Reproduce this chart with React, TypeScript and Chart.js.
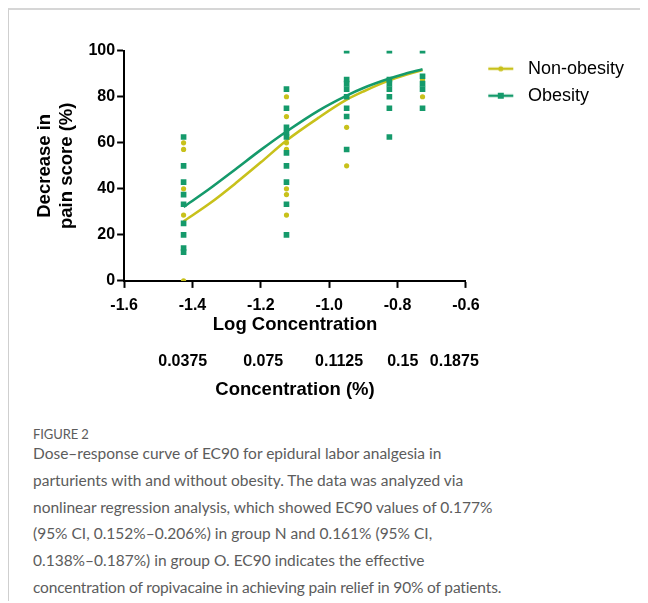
import React, { useEffect, useRef } from "react";
import { Chart, registerables } from "chart.js";

Chart.register(...registerables);

// ---- data ----
const doseLogs = [-1.426, -1.125, -0.949, -0.824, -0.727];
const nonObesityValues: number[][] = [
  [60, 57.1, 40, 28.6, 0],
  [80, 71.4, 60, 57.1, 40, 37.5, 28.6],
  [66.7, 50],
  [],
  [87.5, 80],
];
const obesityValues: number[][] = [
  [62.5, 50, 42.9, 37.5, 33.3, 25, 20, 14.3, 12.5],
  [83.3, 75, 66.7, 64.3, 62.5, 55.6, 50, 42.9, 33.3, 20],
  [100, 87.5, 85.7, 83.3, 80, 75, 71.4, 57.1],
  [100, 87.5, 85.7, 83.3, 80, 75, 62.5],
  [100, 88.9, 85.7, 83.3, 75],
];
const curveX = [-1.426, -1.35, -1.274, -1.2, -1.125, -1.031, -0.949, -0.9, -0.824, -0.78, -0.727];
const nonObesityCurve = [25.9, 33.6, 42.4, 51.5, 61, 70.9, 78.7, 82.3, 87.1, 89.3, 91.6];
const obesityCurve = [32.1, 40, 48.5, 56.9, 64.9, 74, 80.5, 83.8, 87.9, 89.9, 91.9];
const seriesNames = ["Non-obesity", "Obesity"];
const concentrationLabels = ["0.0375", "0.075", "0.1125", "0.15", "0.1875"];
const concentrationLabelAt = [-1.4285, -1.193, -0.971, -0.785, -0.634];
const captionLines = [
  "Dose\u2013response curve of EC90 for epidural labor analgesia in",
  "parturients with and without obesity. The data was analyzed via",
  "nonlinear regression analysis, which showed EC90 values of 0.177%",
  "(95% CI, 0.152%\u20130.206%) in group N and 0.161% (95% CI,",
  "0.138%\u20130.187%) in group O. EC90 indicates the effective",
  "concentration of ropivacaine in achieving pain relief in 90% of patients.",
];

const YELLOW = "#c8c11b";
const GREEN = "#159a6b";

function toPoints(cols: number[][]) {
  const out: { x: number; y: number }[] = [];
  cols.forEach((vals, i) => vals.forEach((v) => out.push({ x: doseLogs[i], y: v })));
  return out;
}

function legendIcon(color: string, square: boolean) {
  const c = document.createElement("canvas");
  c.width = 44;
  c.height = 10;
  const ctx = c.getContext("2d")!;
  ctx.strokeStyle = color;
  ctx.lineWidth = 2.5;
  ctx.beginPath();
  ctx.moveTo(13.3, 5);
  ctx.lineTo(38.3, 5);
  ctx.stroke();
  ctx.fillStyle = color;
  if (square) {
    ctx.fillRect(22.8, 2, 6, 6);
  } else {
    ctx.beginPath();
    ctx.arc(25.8, 5, 2.6, 0, Math.PI * 2);
    ctx.fill();
  }
  return c;
}

export default function App() {
  const ref = useRef<HTMLCanvasElement | null>(null);

  useEffect(() => {
    if (!ref.current) return;
    const icons = [legendIcon(YELLOW, false), legendIcon(GREEN, true)];
    const bold = (size: number) => ({ family: "'Liberation Sans', Arial, sans-serif", size, weight: "bold" as const });
    const chart = new Chart(ref.current, {
      type: "scatter",
      data: {
        datasets: [
          {
            label: seriesNames[1] + " points",
            data: toPoints(obesityValues),
            pointStyle: "rect",
            pointRadius: 4,
            backgroundColor: GREEN,
            borderColor: GREEN,
            borderWidth: 0,
          },
          {
            label: seriesNames[0] + " points",
            data: toPoints(nonObesityValues),
            pointStyle: "circle",
            pointRadius: 2.6,
            backgroundColor: YELLOW,
            borderColor: YELLOW,
            borderWidth: 0,
          },
          {
            label: seriesNames[1],
            data: curveX.map((x, i) => ({ x, y: obesityCurve[i] })),
            showLine: true,
            pointRadius: 0,
            borderColor: GREEN,
            borderWidth: 2.6,
            cubicInterpolationMode: "monotone",
          },
          {
            label: seriesNames[0],
            data: curveX.map((x, i) => ({ x, y: nonObesityCurve[i] })),
            showLine: true,
            pointRadius: 0,
            borderColor: YELLOW,
            borderWidth: 2.6,
            cubicInterpolationMode: "monotone",
          },
        ],
      },
      options: {
        animation: false,
        responsive: true,
        maintainAspectRatio: false,
        layout: { padding: { top: 40.7, left: 21, right: 5, bottom: 0 } },
        plugins: {
          tooltip: { enabled: false },
          legend: {
            position: "right",
            align: "start",
            maxWidth: 220,
            labels: {
              usePointStyle: true,
              pointStyleWidth: 44,
              padding: 9,
              color: "#000",
              font: { family: "'Liberation Sans', Arial, sans-serif", size: 18 },
              generateLabels: () =>
                seriesNames.map((name, i) => ({
                  text: name,
                  pointStyle: icons[i],
                  fillStyle: "transparent",
                  strokeStyle: "transparent",
                  lineWidth: 0,
                  hidden: false,
                  datasetIndex: i,
                  fontColor: "#000",
                })),
            },
          },
        },
        scales: {
          x: {
            type: "linear",
            position: "bottom",
            weight: 0,
            min: -1.6,
            max: -0.6,
            grid: { display: true, drawOnChartArea: false, drawTicks: true, tickLength: 7, tickColor: "#000", tickWidth: 2 },
            border: { display: true, color: "#000", width: 2 },
            ticks: {
              stepSize: 0.2,
              padding: 8,
              color: "#000",
              font: bold(16),
              maxRotation: 0,
              callback: (v: any) => Number(v).toFixed(1),
            },
            title: {
              display: true,
              text: "Log Concentration",
              color: "#000",
              font: bold(18.5),
              padding: { top: -9.4, bottom: 4 },
            },
          },
          x2: {
            type: "linear",
            position: "bottom",
            weight: 1,
            min: -1.6,
            max: -0.6,
            grid: { display: false, drawTicks: false },
            border: { display: false },
            afterBuildTicks: (scale: any) => {
              scale.ticks = concentrationLabelAt.map((value) => ({ value }));
            },
            ticks: {
              padding: 11.7,
              color: "#000",
              font: bold(16),
              maxRotation: 0,
              autoSkip: false,
              callback: (_v: any, i: number) => concentrationLabels[i],
            },
            title: {
              display: true,
              text: "Concentration (%)",
              color: "#000",
              font: bold(18.5),
              padding: { top: -3.7, bottom: 4 },
            },
          },
          y: {
            min: 0,
            max: 100,
            grid: { display: true, drawOnChartArea: false, drawTicks: true, tickLength: 7, tickColor: "#000", tickWidth: 2 },
            border: { display: true, color: "#000", width: 2 },
            ticks: { stepSize: 20, padding: 2, color: "#000", font: bold(16) },
            title: {
              display: true,
              text: ["Decrease in", "pain score (%)"],
              color: "#000",
              font: bold(18.5),
              padding: { top: 4, bottom: 8 },
            },
          },
        },
      },
    });
    return () => chart.destroy();
  }, []);

  return (
    <div
      style={{
        borderTop: "2px solid #d6d6d6",
        borderLeft: "1px solid #cfcfcf",
        width: 640,
        fontFamily: "Lato, 'Open Sans', sans-serif",
      }}
    >
      <div style={{ position: "relative", width: 630, height: 395 }}>
        <canvas ref={ref} />
      </div>
      <div style={{ paddingLeft: 24, color: "#5c5c5c" }}>
        <div style={{ fontSize: 13, lineHeight: "16px", marginTop: 21, letterSpacing: -0.1 }}>FIGURE 2</div>
        <div style={{ fontSize: 15.5, lineHeight: "26.8px", marginTop: -2, whiteSpace: "nowrap" }}>
          {captionLines.map((l, i) => (
            <div key={i} style={i === captionLines.length - 1 ? { letterSpacing: -0.15 } : undefined}>
              {l}
            </div>
          ))}
        </div>
      </div>
    </div>
  );
}
